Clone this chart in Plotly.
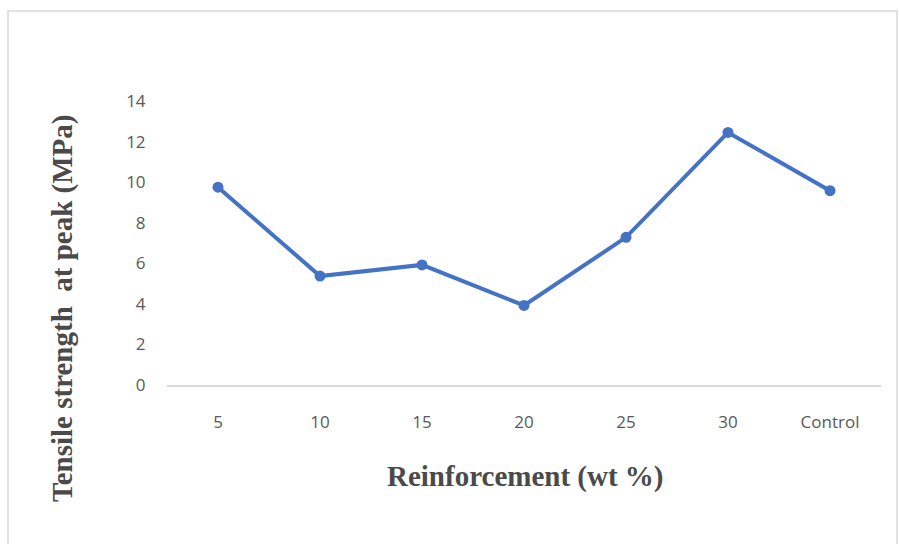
import plotly.graph_objects as go

# Tensile strength at peak for each reinforcement level
categories = ["5", "10", "15", "20", "25", "30", "Control"]
strength_mpa = [9.75, 5.37, 5.92, 3.92, 7.28, 12.45, 9.58]
y_ticks = [0, 2, 4, 6, 8, 10, 12, 14]

W, H = 899, 544
L, R, T, B = 167, 18, 101, 159
pw, ph = W - L - R, H - T - B


def px_x(x):
    return (x - L) / pw


def px_y(y):
    return (H - B - y) / ph


fig = go.Figure()
fig.add_trace(go.Scatter(
    x=categories,
    y=strength_mpa,
    mode="lines+markers",
    line=dict(color="#4472C4", width=4),
    marker=dict(color="#4472C4", size=11),
    showlegend=False,
))

tick_font = dict(family="Open Sans, Liberation Sans, sans-serif", size=17, color="#595959")
title_font = dict(family="Liberation Serif, Times New Roman, serif", size=29, color="#4a4a4a")

fig.update_layout(
    width=W, height=H,
    margin=dict(l=L, r=R, t=T, b=B),
    paper_bgcolor="white",
    plot_bgcolor="white",
    xaxis=dict(
        type="category",
        range=[-0.5, 6.5],
        showgrid=False,
        zeroline=False,
        showline=True,
        linecolor="#d9d9d9",
        linewidth=1.5,
        ticks="outside",
        ticklen=21,
        tickcolor="rgba(0,0,0,0)",
        tickfont=tick_font,
        fixedrange=True,
    ),
    yaxis=dict(
        range=[0, 14],
        tickvals=y_ticks,
        showgrid=False,
        zeroline=False,
        showline=False,
        ticks="outside",
        ticklen=17,
        tickcolor="rgba(0,0,0,0)",
        tickfont=tick_font,
        fixedrange=True,
    ),
    shapes=[dict(
        type="rect", xref="paper", yref="paper",
        x0=px_x(8), x1=px_x(897), y0=px_y(560), y1=px_y(11),
        line=dict(color="#d9d9d9", width=1.5),
        fillcolor="rgba(0,0,0,0)",
        layer="below",
    )],
    annotations=[
        dict(
            text="<b>Reinforcement (wt %)</b>",
            xref="paper", yref="paper",
            x=px_x(525), y=px_y(476),
            xanchor="center", yanchor="middle",
            showarrow=False, font=title_font,
        ),
        dict(
            text="<b>Tensile strength  at peak (MPa)</b>",
            xref="paper", yref="paper",
            x=px_x(62), y=px_y(309),
            xanchor="center", yanchor="middle",
            textangle=-90,
            showarrow=False, font=title_font,
        ),
    ],
)

fig.write_html("out.html", config={"displayModeBar": False})
